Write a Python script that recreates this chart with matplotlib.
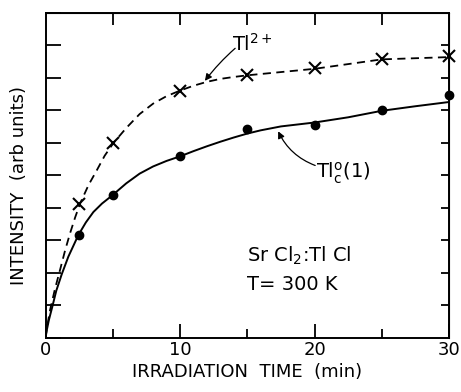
import matplotlib
matplotlib.use("Agg")
import matplotlib.pyplot as plt

# measured points
time_pts = [2.5, 5, 10, 15, 20, 25, 30]
tl2_pts = [4.13, 6.0, 7.6, 8.07, 8.28, 8.58, 8.65]
tlc_pts = [3.16, 4.38, 5.58, 6.43, 6.54, 7.0, 7.47]

# hand-drawn guide curves
tl2_curve_x = [0, 0.1, 0.34, 0.7, 1.08, 1.45, 1.82, 2.2, 2.57, 3.2, 3.81, 4.4, 5.05,
               6, 7, 8, 9, 10, 11, 12, 13, 14, 15, 20, 25, 30]
tl2_curve_y = [0, 0.3, 0.86, 1.5, 2.09, 2.68, 3.21, 3.7, 4.13, 4.7, 5.15, 5.6, 5.99,
               6.45, 6.88, 7.2, 7.43, 7.6, 7.75, 7.87, 7.96, 8.02, 8.07, 8.27, 8.56, 8.63]
tlc_curve_x = [0, 0.1, 0.25, 0.5, 0.8, 1.2, 1.7, 2.44, 3, 3.56, 4.2, 4.93, 6, 7, 8, 9,
               10, 11, 12, 13, 14, 15, 16, 17.5, 20, 22.5, 25, 27.5, 30]
tlc_curve_y = [0, 0.25, 0.55, 0.95, 1.45, 1.95, 2.5, 3.16, 3.55, 3.87, 4.13, 4.37, 4.75,
               5.05, 5.27, 5.44, 5.58, 5.74, 5.89, 6.03, 6.16, 6.28, 6.38, 6.5, 6.62,
               6.78, 6.98, 7.12, 7.25]

fig = plt.figure(figsize=(4.61, 3.92), dpi=100)
ax = fig.add_axes([0.0987, 0.1378, 0.8753, 0.8303])

ax.plot(tl2_curve_x, tl2_curve_y, color="black", lw=1.3, dashes=(4.5, 3))
ax.plot(tlc_curve_x, tlc_curve_y, color="black", lw=1.4)
ax.plot(time_pts, tl2_pts, ls="none", marker="x", ms=8, mew=1.5, color="black", clip_on=False)
ax.plot(time_pts, tlc_pts, ls="none", marker="o", ms=6, color="black", clip_on=False)

ax.set_xlim(0, 30)
ax.set_ylim(0, 10)
ax.set_xticks([0, 10, 20, 30])
ax.set_xticks([5, 15, 25], minor=True)
ax.set_yticks(range(0, 11))
ax.set_yticklabels([])
ax.tick_params(axis="x", which="major", direction="in", length=10, width=1.3,
               labelsize=13, pad=2, top=False)
ax.tick_params(axis="x", which="minor", direction="in", length=6.5, width=1.3, top=False)
ax.tick_params(axis="y", direction="in", length=10.5, width=1.3, right=False)
for s in ax.spines.values():
    s.set_linewidth(1.4)

top = ax.secondary_xaxis("top")
top.set_xticks([5, 10, 15, 20, 25])
top.set_xticklabels([])
top.tick_params(direction="in", length=8.5, width=1.3)
right = ax.secondary_yaxis("right")
right.set_yticks(range(1, 10))
right.set_yticklabels([])
right.tick_params(direction="in", length=6, width=1.3)

ax.set_xlabel("IRRADIATION  TIME  (min)", fontsize=13, labelpad=3)
ax.set_ylabel("INTENSITY  (arb units)", fontsize=13)
ax.yaxis.set_label_coords(-0.043, 0.47)

ax.text(13.9, 8.83, r"Tl$^{\mathrm{2+}}$", fontsize=14, ha="left", va="baseline")
ax.annotate("", xy=(11.85, 7.9), xytext=(14.1, 8.9),
            arrowprops=dict(arrowstyle="-|>", color="black", lw=0.9,
                            mutation_scale=10, shrinkA=0, shrinkB=0,
                            connectionstyle="arc3,rad=0.05"))
ax.text(20.1, 4.92, r"Tl$_{\mathrm{c}}^{\mathrm{o}}$(1)", fontsize=14, ha="left", va="baseline")
ax.annotate("", xy=(17.3, 6.35), xytext=(20.05, 5.3),
            arrowprops=dict(arrowstyle="-|>", color="black", lw=0.9,
                            mutation_scale=10, shrinkA=0, shrinkB=0,
                            connectionstyle="arc3,rad=-0.2"))

ax.text(15.0, 2.33, r"Sr Cl$_{\mathrm{2}}$:Tl Cl", fontsize=14, ha="left", va="baseline")
ax.text(15.0, 1.47, "T= 300 K", fontsize=14, ha="left", va="baseline")

fig.savefig("out.png", dpi=100)
